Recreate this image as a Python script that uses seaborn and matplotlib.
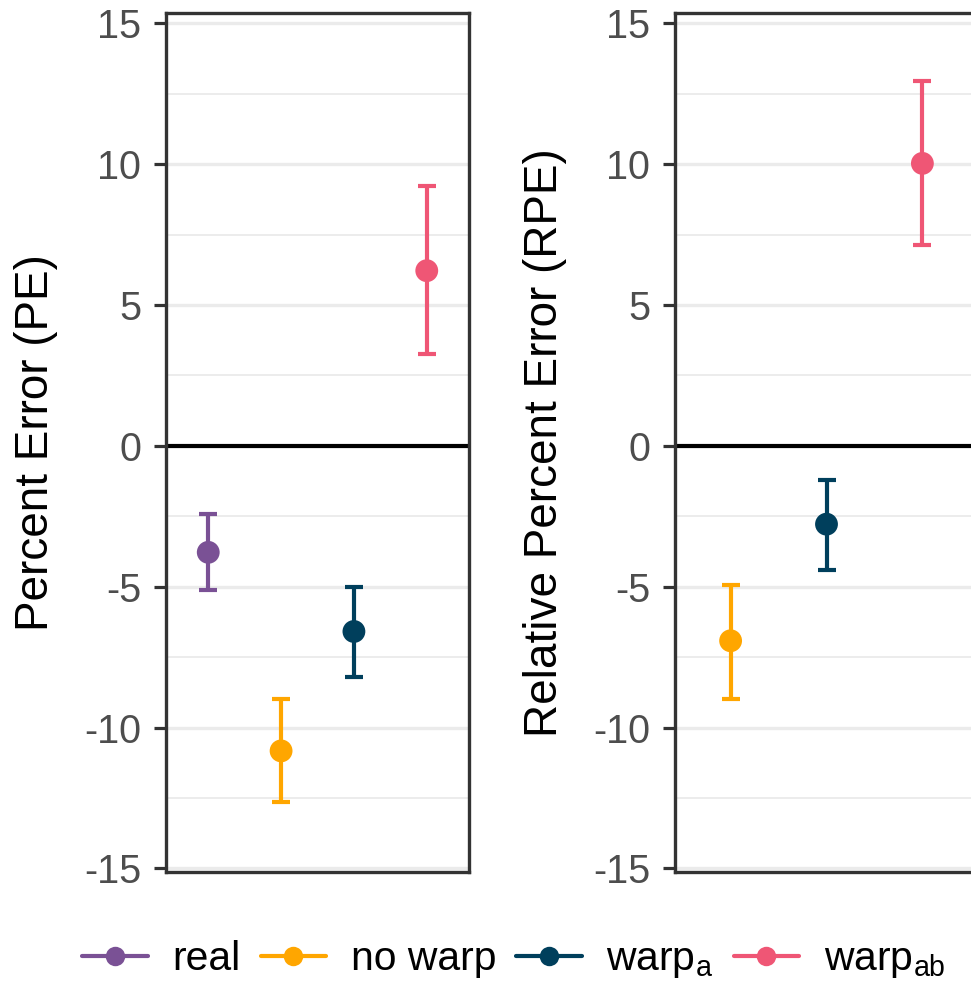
import matplotlib
matplotlib.use("Agg")
import matplotlib.pyplot as plt
from matplotlib.ticker import MultipleLocator
from matplotlib.lines import Line2D
import pandas as pd
import seaborn as sns

# Methods and their colours
methods = ["real", "no warp", "warp_a", "warp_ab"]
legend_labels = ["real", "no warp", r"warp$_{\rm a}$", r"warp$_{\rm ab}$"]
colors = ["#7a5195", "#ffa600", "#003f5c", "#ef5675"]

# Percent error (PE): mean with interval bounds
pe_methods = ["real", "no warp", "warp_a", "warp_ab"]
pe_mean = [-3.78, -10.83, -6.59, 6.22]
pe_lo = [-5.12, -12.66, -8.20, 3.27]
pe_hi = [-2.41, -8.98, -5.00, 9.24]

# Relative percent error (RPE): mean with interval bounds
rpe_methods = ["no warp", "warp_a", "warp_ab"]
rpe_mean = [-6.92, -2.78, 10.03]
rpe_lo = [-8.97, -4.40, 7.13]
rpe_hi = [-4.93, -1.20, 12.97]

y_ticks = [-15, -10, -5, 0, 5, 10, 15]

sns.set_theme(style="white")
plt.rcParams["font.family"] = ["Liberation Sans", "DejaVu Sans"]
plt.rcParams["mathtext.fontset"] = "custom"
plt.rcParams["mathtext.rm"] = "Liberation Sans"
plt.rcParams["mathtext.it"] = "Liberation Sans:italic"
plt.rcParams["axes.unicode_minus"] = False
plt.rcParams["text.color"] = "black"

palette = dict(zip(methods, colors))

fig = plt.figure(figsize=(9.71, 9.83), dpi=100)
ax_w = 0.31205
ax_h = 0.87416
y0 = 0.11292
ax_pe = fig.add_axes([0.17096, y0, ax_w, ax_h])
ax_rpe = fig.add_axes([0.69516, y0, ax_w, ax_h])


def draw_panel(ax, names, mean, lo, hi, ylabel, label_x):
    df = pd.DataFrame({"method": names, "mean": mean, "lo": lo, "hi": hi})
    df["pos"] = range(len(df))
    ax.axhline(0, color="black", lw=3.0, zorder=2)
    for _, r in df.iterrows():
        ax.errorbar(r["pos"], r["mean"],
                    yerr=[[r["mean"] - r["lo"]], [r["hi"] - r["mean"]]],
                    fmt="none", ecolor=palette[r["method"]], elinewidth=3.0,
                    capsize=6.5, capthick=3.0, zorder=3)
    sns.scatterplot(data=df, x="pos", y="mean", hue="method", palette=palette,
                    s=270, edgecolor="none", legend=False, ax=ax, zorder=4)
    n = len(df)
    ax.set_xlim(-0.58, n - 1 + 0.58)
    ax.set_ylim(-15.13, 15.38)
    ax.set_yticks(y_ticks)
    ax.yaxis.set_minor_locator(MultipleLocator(2.5))
    ax.set_xticks([])
    ax.set_xlabel("")
    ax.grid(False)
    ax.grid(which="major", axis="y", color="#EBEBEB", lw=2.4, zorder=0)
    ax.grid(which="minor", axis="y", color="#EBEBEB", lw=1.3, zorder=0)
    ax.set_axisbelow(True)
    ax.tick_params(axis="y", which="major", length=9, width=2.3,
                   color="#333333", labelsize=28.5, labelcolor="#4D4D4D", pad=9,
                   left=True)
    ax.tick_params(axis="y", which="minor", length=0)
    for sp in ax.spines.values():
        sp.set_visible(True)
        sp.set_color("#333333")
        sp.set_linewidth(2.4)
    ax.set_ylabel(ylabel, fontsize=33, color="black", va="center")
    ax.yaxis.set_label_coords(label_x, 0.5)


draw_panel(ax_pe, pe_methods, pe_mean, pe_lo, pe_hi, "Percent Error (PE)", -0.43)
draw_panel(ax_rpe, rpe_methods, rpe_mean, rpe_lo, rpe_hi,
           "Relative Percent Error (RPE)", -0.43)

handles = [Line2D([0], [0], color=c, lw=3.0, marker="o", markersize=14,
                  markeredgewidth=0) for c in colors]
fig.legend(handles, legend_labels, loc="center", bbox_to_anchor=(0.529, 0.0234),
           ncol=4, frameon=False, fontsize=29.4, handlelength=1.6,
           handletextpad=0.6, columnspacing=0.5, borderpad=0.2,
           labelcolor="black")

fig.savefig("out.png", dpi=100, facecolor="white")
